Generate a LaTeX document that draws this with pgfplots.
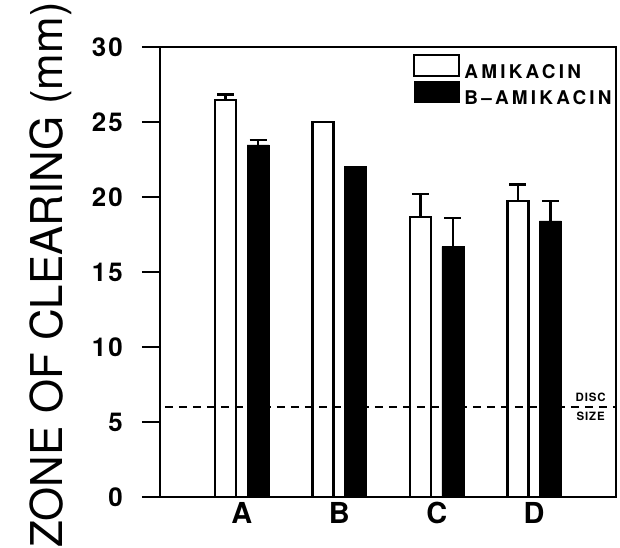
\documentclass[border=0pt]{standalone}
\usepackage{pgfplots}
\pgfplotsset{compat=1.18}
\usepackage{fontspec}
\setmainfont{TeX Gyre Heros}
\newfontfamily\widefont[LetterSpace=8]{TeX Gyre Heros}
\newfontfamily\legendfont[LetterSpace=17]{TeX Gyre Heros}
\begin{document}
\begin{tikzpicture}
\useasboundingbox (-160bp,-51bp) rectangle (460bp,497bp);
\begin{axis}[
  at={(0,0)}, anchor=south west,
  width=456bp, height=450bp, scale only axis,
  xmin=-0.84, xmax=3.84, ymin=0, ymax=30,
  xtick={0,1,2,3}, xticklabels={A,B,C,D},
  ytick={0,5,10,15,20,25,30},
  ytick pos=left,
  tick align=outside,
  major tick length=18bp,
  major tick style={line width=2bp, black},
  major x tick style={draw=none},
  axis line style={line width=2.5bp},
  /pgf/number format/assume math mode=true,
  yticklabel style={font=\widefont\bfseries\fontsize{26}{26}\selectfont, inner sep=0pt, anchor=east, xshift=-19bp},
  xticklabel style={font=\bfseries\fontsize{29}{29}\selectfont, inner sep=0pt, anchor=north, yshift=13bp},
  ylabel={ZONE OF CLEARING (mm)},
  every axis y label/.style={at={(axis description cs:-0.24,0.493)}, rotate=90, anchor=center, font=\fontsize{44}{44}\selectfont},
  legend style={draw=none, fill=none, at={(0.555,0.985)}, anchor=north west,
    inner xsep=0pt, inner ysep=0pt, row sep=0bp,
    font=\legendfont\bfseries\fontsize{19}{19}\selectfont,
    nodes={inner xsep=4bp, inner ysep=1bp}},
  legend cell align=left,
  legend image code/.code={\draw[#1] (0bp,-4bp) rectangle (45bp,17bp);},
  clip=false,
]
\addplot[ybar, bar width=21bp, bar shift=-16.25bp, fill=white, draw=black, line width=2.2bp]
  coordinates {(0,26.47) (1,25.0) (2,18.69) (3,19.73)};
\addlegendentry{AMIKACIN}
\addplot[ybar, bar width=22bp, bar shift=16.25bp, fill=black, draw=black, line width=0.5bp]
  coordinates {(0,23.47) (1,22.05) (2,16.69) (3,18.4)};
\addlegendentry{B\textendash AMIKACIN}
% error bars (A, C, D only), placed at the bar centres
\addplot[draw=none, mark=none, forget plot,
  error bars/.cd, y dir=plus, y explicit,
  error bar style={line width=2.5bp, black},
  error mark options={line width=2.5bp, mark size=8.5bp, black, rotate=90}]
  coordinates {(-0.1667,26.47) +- (0,0.35) (1.8333,18.69) +- (0,1.5) (2.8333,19.73) +- (0,1.1)};
\addplot[draw=none, mark=none, forget plot,
  error bars/.cd, y dir=plus, y explicit,
  error bar style={line width=2.5bp, black},
  error mark options={line width=2.5bp, mark size=8.5bp, black, rotate=90}]
  coordinates {(0.1667,23.47) +- (0,0.33) (2.1667,16.69) +- (0,1.9) (3.1667,18.4) +- (0,1.33)};
% disc size line
\addplot[forget plot, black, line width=2bp, dash pattern=on 8bp off 6bp]
  coordinates {(-0.79,6) (3.84,6)};
\node[font=\widefont\bfseries\fontsize{11.5}{11.5}\selectfont, anchor=south, inner sep=0pt] at (axis cs:3.58,6.35) {DISC};
\node[font=\widefont\bfseries\fontsize{11.5}{11.5}\selectfont, anchor=north, inner sep=0pt] at (axis cs:3.58,5.65) {SIZE};
\end{axis}
\end{tikzpicture}
\end{document}
